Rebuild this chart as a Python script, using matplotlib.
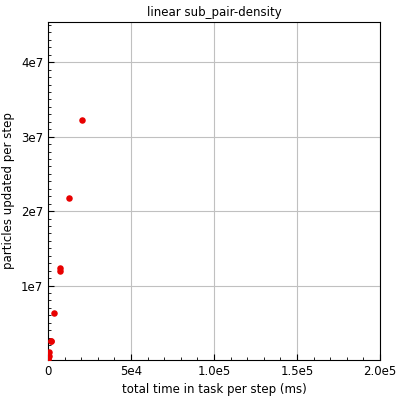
import matplotlib
matplotlib.use('Agg')
import matplotlib.pyplot as plt
from matplotlib.ticker import MultipleLocator, FixedLocator

# total time in task per step (ms) vs particles updated per step
time_ms = [20500, 12700, 7300, 7200, 3600, 1800, 1700, 800, 500, 200, 100]
particles = [3.23e7, 2.18e7, 1.235e7, 1.20e7, 6.3e6, 2.6e6, 2.5e6, 1.1e6, 6e5, 3e5, 1e5]

xticks = [0, 5e4, 1e5, 1.5e5, 2e5]
xlabels = ['0', '5e4', '1.0e5', '1.5e5', '2.0e5']
yticks = [1e7, 2e7, 3e7, 4e7]
ylabels = ['1e7', '2e7', '3e7', '4e7']

plt.rcParams['font.family'] = 'DejaVu Sans'
fig = plt.figure(figsize=(4, 4), dpi=100)
ax = fig.add_axes([0.12, 0.1, 0.83, 0.845])

ax.scatter(time_ms, particles, s=22, c='#e80000', zorder=3, linewidths=0)

ax.set_xlim(0, 2e5)
ax.set_ylim(0, 4.54e7)
ax.xaxis.set_major_locator(FixedLocator(xticks))
ax.set_xticklabels(xlabels)
ax.yaxis.set_major_locator(FixedLocator(yticks))
ax.set_yticklabels(ylabels)
ax.xaxis.set_minor_locator(MultipleLocator(1e4))
ax.yaxis.set_minor_locator(MultipleLocator(1e6))
ax.tick_params(which='both', direction='in', top=False, right=False, labelsize=8.5)
ax.tick_params(which='major', length=4)
ax.tick_params(which='minor', length=2)
ax.grid(True, which='major', color='#c0c0c0', linewidth=0.8)

ax.set_title('linear sub_pair-density', fontsize=8.5, pad=4)
ax.set_xlabel('total time in task per step (ms)', fontsize=8.5)
ax.set_ylabel('particles updated per step', fontsize=8.5)

fig.savefig('out.png', dpi=100)
